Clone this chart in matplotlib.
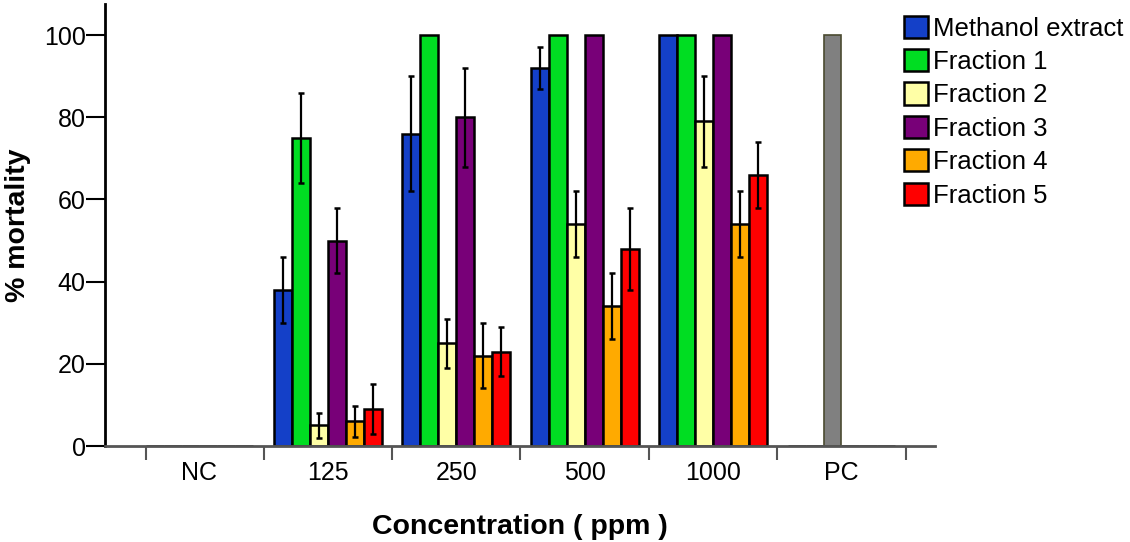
import numpy as np
import matplotlib
matplotlib.use('Agg')
import matplotlib.pyplot as plt

plt.rcParams['font.family'] = ['Liberation Sans', 'DejaVu Sans']

# Data
categories = ['NC', '125', '250', '500', '1000', 'PC']
series = ['Methanol extract', 'Fraction 1', 'Fraction 2', 'Fraction 3', 'Fraction 4', 'Fraction 5']
colors = ['#1440c8', '#00dd22', '#ffffa6', '#780078', '#ffaa00', '#ff0000']

methanol = [0, 38, 76, 92, 100, 0]
fraction1 = [0, 75, 100, 100, 100, 0]
fraction2 = [0, 5, 25, 54, 79, 0]
fraction3 = [0, 50, 80, 100, 100, 0]
fraction4 = [0, 6, 22, 34, 54, 0]
fraction5 = [0, 9, 23, 48, 66, 0]

methanol_err = [0, 8, 14, 5, 0, 0]
fraction1_err = [0, 11, 0, 0, 0, 0]
fraction2_err = [0, 3, 6, 8, 11, 0]
fraction3_err = [0, 8, 12, 0, 0, 0]
fraction4_err = [0, 3.7, 8, 8, 8, 0]
fraction5_err = [0, 6, 6, 10, 8, 0]

# positive control (drawn in the Fraction 2 slot)
pc_value = 100

values = [methanol, fraction1, fraction2, fraction3, fraction4, fraction5]
errors = [methanol_err, fraction1_err, fraction2_err, fraction3_err, fraction4_err, fraction5_err]

fig = plt.figure(figsize=(11.3, 5.42), dpi=100)
ax = fig.add_axes([0.0929, 0.1771, 0.7345, 0.815])

x = np.arange(len(categories))
w = 0.14
handles = []
for j, (vals, errs) in enumerate(zip(values, errors)):
    pos = x + (j - 2.5) * w
    vals = np.array(vals, dtype=float)
    if j == 2:
        # PC slot of Fraction 2 holds the grey control bar instead
        bars = ax.bar(pos[:5], vals[:5], w, color=colors[j], edgecolor='black', linewidth=1.8, zorder=2)
    else:
        bars = ax.bar(pos, vals, w, color=colors[j], edgecolor='black', linewidth=1.8, zorder=2)
    handles.append(bars)
    errs = np.array(errs, dtype=float)
    m = errs > 0
    ax.errorbar(pos[m], vals[m], yerr=errs[m], fmt='none', ecolor='black',
                elinewidth=1.6, capsize=2.5, capthick=1.8, zorder=3)

ax.bar(x[5] + (2 - 2.5) * w, pc_value, w, color='#808080', edgecolor='#4a4a30', linewidth=1.2, zorder=2)

ax.set_xlim(-0.736, 5.728)
ax.set_ylim(0, 107.5)
ax.set_yticks([0, 20, 40, 60, 80, 100])
ax.tick_params(axis='y', labelsize=18, length=13.5, width=1.5, pad=0.5)
ax.set_xticks(x)
ax.set_xticklabels(categories)
ax.tick_params(axis='x', which='major', length=0, labelsize=18, pad=11)
ax.set_xticks([-0.42, 0.5, 1.5, 2.5, 3.5, 4.5, 5.5], minor=True)
ax.tick_params(axis='x', which='minor', length=10, width=1.5, color='#555555')

ax.spines['top'].set_visible(False)
ax.spines['right'].set_visible(False)
ax.spines['left'].set_linewidth(2)
ax.spines['bottom'].set_linewidth(2)
ax.spines['bottom'].set_color('#555555')

ax.set_ylabel('% mortality', fontsize=20.5, fontweight='bold', labelpad=9)
ax.set_xlabel('Concentration ( ppm )', fontsize=20.5, fontweight='bold', labelpad=21)

fig.legend(handles, series, loc='upper left', bbox_to_anchor=(0.7906, 0.99),
           frameon=False, fontsize=18.5, handlelength=0.95, handleheight=0.95,
           handletextpad=0.2, labelspacing=0.33, borderaxespad=0)

fig.savefig('out.png', dpi=100)
